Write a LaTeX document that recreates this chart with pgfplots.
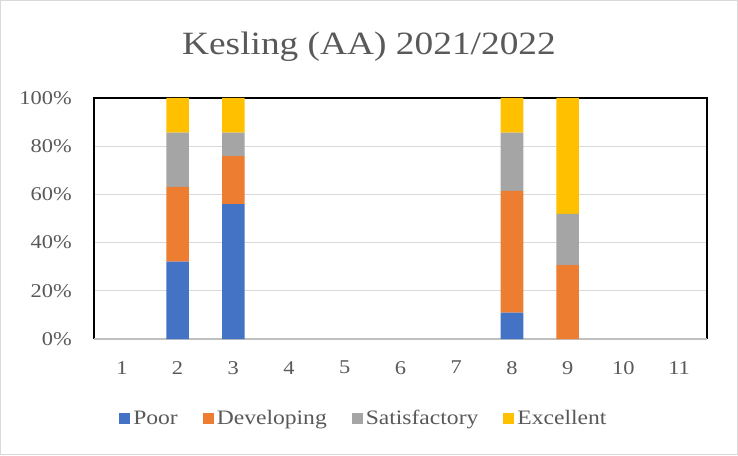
\documentclass[border=0pt]{standalone}
\usepackage{pgfplots}
\pgfplotsset{compat=1.18}
\usepackage{fontspec}
\setmainfont{Liberation Serif}[FakeStretch=1.15]

\definecolor{poor}{HTML}{4472C4}
\definecolor{devel}{HTML}{ED7D31}
\definecolor{satis}{HTML}{A5A5A5}
\definecolor{excel}{HTML}{FFC000}
\definecolor{txt}{HTML}{595959}
\definecolor{grd}{HTML}{D9D9D9}
\definecolor{baseln}{HTML}{BFBFBF}

\pgfplotsset{sq legend/.style={legend image code/.code={\fill[##1] (0pt,-5.5pt) rectangle (11pt,5.5pt);}}}

\begin{document}
\begin{tikzpicture}
% outer chart frame
\draw[grd, line width=1pt] (-93.5pt,-115.5pt) rectangle (643.5pt,338.5pt);
\begin{axis}[at={(0pt,0pt)}, anchor=south west, scale only axis,
 width=613pt, height=241pt, clip=false,
 ybar stacked, bar width=22.6pt,
 xmin=0.5, xmax=11.5, ymin=0, ymax=100,
 xtick={1,...,11}, ytick={0,20,...,100},
 /pgf/number format/assume math mode=true,
 yticklabel={\pgfmathprintnumber{\tick}\%},
 major tick length=0pt,
 axis line style={draw=none},
 ymajorgrids, grid style={grd, line width=1.3pt},
 tick label style={font=\fontsize{19.5}{22}\selectfont, text=txt},
 xticklabel style={anchor=north, inner sep=0pt, yshift=-22pt},
 yticklabel style={anchor=east, inner sep=0pt, xshift=-22pt},
 title={Kesling (AA) 2021/2022},
 title style={at={(0.4486,1)}, anchor=base, yshift=37pt, inner sep=0pt,
   font=\fontsize{32.5}{36}\selectfont, text=txt},
 legend style={at={(0.441,-0.328)}, anchor=center, draw=none, fill=none,
   legend columns=-1, font=\fontsize{20.5}{22}\selectfont, text=txt,
   nodes={inner xsep=3pt},
   /tikz/every even column/.append style={column sep=22pt}},
]
\addplot[fill=poor, draw=none, sq legend] coordinates {(2,32.1) (3,56.0) (8,10.9) (9,0)};
\addplot[fill=devel, draw=none, sq legend] coordinates {(2,31.0) (3,19.9) (8,50.6) (9,30.7)};
\addplot[fill=satis, draw=none, sq legend] coordinates {(2,22.5) (3,9.7) (8,24.1) (9,21.2)};
\addplot[fill=excel, draw=none, sq legend] coordinates {(2,14.4) (3,14.4) (8,14.4) (9,48.1)};
\legend{Poor, Developing, Satisfactory, Excellent}
\draw[baseln, line width=1.5pt] (rel axis cs:0,0) -- (rel axis cs:1,0);
\draw[black, line width=2pt] (rel axis cs:0,0) -- (rel axis cs:0,1) -- (rel axis cs:1,1) -- (rel axis cs:1,0);
\end{axis}
\end{tikzpicture}
\end{document}
